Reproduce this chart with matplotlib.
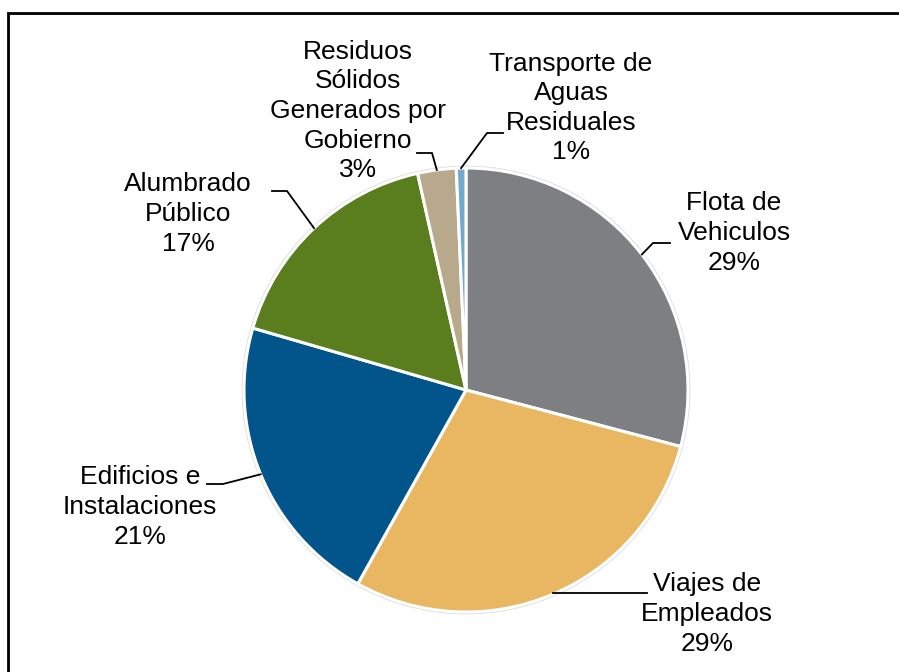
import matplotlib
matplotlib.use("Agg")
import matplotlib.pyplot as plt
import numpy as np
from matplotlib.patches import Rectangle, Circle

plt.rcParams['font.family'] = ['Liberation Sans', 'DejaVu Sans']

categories = ["Flota de\nVehiculos", "Viajes de\nEmpleados", "Edificios e\nInstalaciones",
              "Alumbrado\nPúblico", "Residuos\nSólidos\nGenerados por\nGobierno",
              "Transporte de\nAguas\nResiduales"]
values = [29.1, 29.0, 21.4, 17.0, 2.8, 0.7]
colors = ["#7E7F83", "#E9B762", "#01558B", "#5A7E1E", "#B9A98C", "#74A9CF"]

W, H = 899, 672
fig = plt.figure(figsize=(W / 100, H / 100), dpi=100)
ax = fig.add_axes([0, 0, 1, 1])
ax.set_xlim(0, W)
ax.set_ylim(0, H)
ax.set_aspect('equal')
ax.axis('off')

def Y(y):
    return H - y

cx, cy, R = 466, Y(390), 222

ax.add_patch(Circle((cx, cy), R + 1.5, facecolor='none', edgecolor='#dcdcdc', lw=1.2, zorder=0))
wedges, _ = ax.pie(values, colors=colors, startangle=90, counterclock=False,
                   center=(cx, cy), radius=R, frame=True,
                   wedgeprops=dict(edgecolor='white', linewidth=2.2))
ax.set_xlim(0, W)
ax.set_ylim(0, H)
ax.axis('off')

# label layout: (text x, text y-center, elbow point, end point) in image pixels
layout = [
    (734, 233, (653, 243), (670, 243)),
    (707, 614, None, (647, 593)),
    (140, 507, (223, 484), (207, 484)),
    (188, 214, (287, 191), (272, 191)),
    (358, 111, (432, 153), (417, 153)),
    (571, 108, (487, 133), (503, 133)),
]

total = sum(values)
for w, cat, v, (tx, ty, elbow, end) in zip(wedges, categories, values, layout):
    ang = np.deg2rad((w.theta1 + w.theta2) / 2)
    ex, ey = cx + R * np.cos(ang), cy + R * np.sin(ang)
    if elbow is None:
        xs = [ex, end[0]]
        ys = [Y(end[1]), Y(end[1])]
    else:
        xs = [ex, elbow[0], end[0]]
        ys = [ey, Y(elbow[1]), Y(end[1])]
    ax.plot(xs, ys, color='black', lw=1.3, zorder=5)
    pct = round(v / total * 100)
    ax.text(tx, Y(ty), f"{cat}\n{pct}%", ha='center', va='center',
            fontsize=19, linespacing=1.29, color='black')

# outer border
ax.add_patch(Rectangle((8.5, -20), 1000, H - 14 + 20, facecolor='none',
                       edgecolor='#b0b0b0', lw=1.5, clip_on=False, zorder=9))
ax.add_patch(Rectangle((7.5, -20), 1000, H - 13 + 20, facecolor='none',
                       edgecolor='black', lw=2.0, clip_on=False, zorder=10))

fig.savefig("out.png", dpi=100)
